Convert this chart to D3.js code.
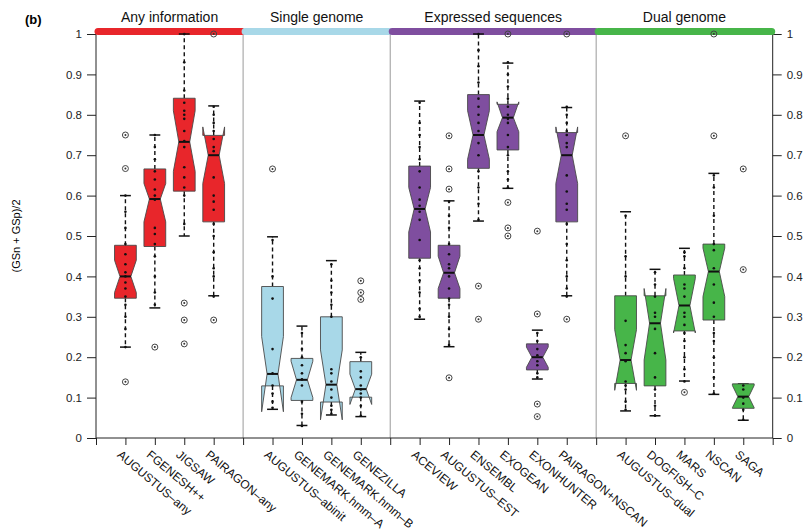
<!DOCTYPE html>
<html>
<head>
<meta charset="utf-8">
<script src="https://cdn.jsdelivr.net/npm/d3@7"></script>
<style>
  body { margin: 0; background: #fff; }
  text { font-family: "Liberation Sans", Arial, sans-serif; }
</style>
</head>
<body>
<script>
// group headers and colours
var groups = ["Any information", "Single genome", "Expressed sequences", "Dual genome"];
var groupColors = ["#e8262b", "#a8d8e8", "#7f4e9f", "#47b549"];

var methods = ["AUGUSTUS\u2013any", "FGENESH++", "JIGSAW", "PAIRAGON\u2013any",
  "AUGUSTUS\u2013abinit", "GENEMARK.hmm\u2013A", "GENEMARK.hmm\u2013B", "GENEZILLA",
  "ACEVIEW", "AUGUSTUS\u2013EST", "ENSEMBL", "EXOGEAN", "EXONHUNTER", "PAIRAGON+NSCAN",
  "AUGUSTUS\u2013dual", "DOGFISH\u2013C", "MARS", "NSCAN", "SAGA"];
var methodGroup = [0,0,0,0, 1,1,1,1, 2,2,2,2,2,2, 3,3,3,3,3];

// box statistics
var whiskerLo = [0.225,0.322,0.50,0.352, 0.071,0.031,0.057,0.053, 0.294,0.226,0.537,0.618,0.146,0.352, 0.067,0.055,0.141,0.108,0.044];
var hingeLo   = [0.346,0.474,0.611,0.535, 0.129,0.093,0.089,0.101, 0.445,0.346,0.6675,0.713,0.1685,0.535, 0.135,0.129,0.265,0.292,0.0735];
var medians   = [0.40,0.5915,0.733,0.70, 0.1586,0.144,0.132,0.121, 0.567,0.409,0.75,0.793,0.20,0.70, 0.193,0.284,0.328,0.412,0.1024];
var hingeHi   = [0.477,0.666,0.841,0.749, 0.375,0.197,0.300,0.189, 0.673,0.477,0.85,0.826,0.233,0.756, 0.352,0.352,0.4035,0.48,0.134];
var whiskerHi = [0.60,0.75,1.0,0.822, 0.498,0.277,0.439,0.212, 0.834,0.587,1.0,0.928,0.267,0.818, 0.56,0.4175,0.4695,0.655,0.134];
var notchLo   = [0.36,0.535,0.66,0.63, 0.065,0.10,0.045,0.083, 0.51,0.37,0.69,0.758,0.175,0.63, 0.118,0.193,0.26,0.35,0.075];
var notchHi   = [0.44,0.63,0.81,0.77, 0.251,0.19,0.218,0.158, 0.62,0.45,0.81,0.832,0.225,0.77, 0.268,0.37,0.395,0.47,0.13];

var outliers = [
  [0.75,0.667,0.139], [0.225], [0.334,0.292,0.233], [1.0,0.292],
  [0.666], [], [], [0.389,0.36,0.343],
  [], [0.748,0.666,0.616,0.149], [0.376,0.294], [1.0,0.583,0.52,0.50], [0.512,0.307,0.084,0.053], [1.0,0.294],
  [0.748], [], [0.113], [1.0,0.748], [0.666,0.4168]
];

var points = [
  [0.225,0.27,0.30,0.33,0.35,0.37,0.385,0.40,0.41,0.43,0.455,0.48,0.52,0.56,0.60],
  [0.33,0.36,0.40,0.45,0.48,0.505,0.52,0.59,0.60,0.615,0.64,0.66,0.69,0.72,0.75],
  [0.53,0.60,0.62,0.645,0.67,0.72,0.735,0.76,0.79,0.80,0.81,0.83,0.86,0.93,1.0],
  [0.35,0.40,0.42,0.46,0.50,0.53,0.565,0.585,0.60,0.645,0.71,0.72,0.74,0.76,0.78,0.80,0.82],
  [0.075,0.09,0.11,0.13,0.16,0.22,0.345,0.40,0.49],
  [0.03,0.06,0.09,0.13,0.145,0.16,0.18,0.20,0.22,0.26],
  [0.06,0.07,0.08,0.10,0.12,0.14,0.16,0.17,0.30,0.33,0.36,0.39,0.43],
  [0.055,0.08,0.10,0.11,0.12,0.13,0.15,0.165,0.20],
  [0.30,0.32,0.36,0.39,0.42,0.44,0.49,0.54,0.56,0.575,0.59,0.62,0.66,0.69,0.72,0.75,0.78,0.83],
  [0.23,0.27,0.30,0.33,0.345,0.37,0.40,0.42,0.43,0.455,0.48,0.52,0.55,0.585],
  [0.54,0.58,0.62,0.66,0.70,0.73,0.76,0.78,0.80,0.82,0.84,0.88,0.92,0.96,1.0],
  [0.62,0.64,0.66,0.70,0.72,0.75,0.78,0.79,0.80,0.82,0.84,0.87,0.90,0.93],
  [0.15,0.16,0.18,0.19,0.205,0.22,0.24,0.26],
  [0.35,0.37,0.40,0.44,0.48,0.53,0.565,0.58,0.61,0.65,0.72,0.73,0.75,0.76,0.78,0.80,0.82],
  [0.07,0.09,0.12,0.13,0.14,0.19,0.21,0.23,0.29,0.40,0.45,0.55],
  [0.055,0.08,0.12,0.15,0.21,0.27,0.30,0.31,0.35,0.38,0.41],
  [0.14,0.17,0.20,0.24,0.26,0.28,0.30,0.31,0.35,0.37,0.38,0.42,0.45,0.46],
  [0.11,0.15,0.20,0.24,0.26,0.30,0.335,0.38,0.42,0.465,0.48,0.55,0.62,0.65],
  [0.045,0.07,0.085,0.10,0.12,0.13]
];

var yTicks = [0,0.1,0.2,0.3,0.4,0.5,0.6,0.7,0.8,0.9,1];

var width = 804, height = 529;
var nSlots = methods.length + groups.length; // one empty slot per group boundary

// slot of each method: groups separated by an empty slot
var slotOf = methods.map(function(d,i){ return i + 1 + methodGroup[i]; });
var groupEdges = [0];
groups.forEach(function(g,gi){
    var last = d3.max(slotOf.filter(function(s,i){ return methodGroup[i]===gi; }));
    groupEdges.push(last + 1);
});

var x = d3.scaleLinear().domain([0, nSlots]).range([96, 772.7]);
var y = d3.scaleLinear().domain([0, 1]).range([438, 34]);
var step = x(1) - x(0);
var wid = step * 0.37;

var svg = d3.select("body").append("svg")
    .attr("width", width)
    .attr("height", height);

// group separators
svg.selectAll(".sep")
    .data(groupEdges.slice(1, groupEdges.length - 1))
    .enter().append("line")
    .attr("x1", function(d){ return x(d); })
    .attr("x2", function(d){ return x(d); })
    .attr("y1", y(1)).attr("y2", y(0))
    .style("stroke", "#9a9a9a").style("stroke-width", 1);

// axes
var yLeft = d3.axisLeft(y).tickValues(yTicks).tickSize(9).tickPadding(5)
    .tickFormat(function(d){ return d3.format("")(d); });
var yRight = d3.axisRight(y).tickValues(yTicks).tickSize(9).tickPadding(5)
    .tickFormat(function(d){ return d3.format("")(d); });
var xAxis = d3.axisBottom(x).tickValues(d3.range(0, nSlots + 1)).tickSize(7).tickFormat("");

[svg.append("g").attr("transform", "translate(" + x(0) + ",0)").call(yLeft),
 svg.append("g").attr("transform", "translate(" + x(nSlots) + ",0)").call(yRight),
 svg.append("g").attr("transform", "translate(0," + y(0) + ")").call(xAxis)]
 .forEach(function(g){
    g.select(".domain").attr("d", null);
    g.selectAll("line").style("stroke", "#222");
    g.selectAll("text").style("font-size", "11.5px").style("fill", "#222")
        .style("font-family", "'Liberation Sans', Arial, sans-serif");
 });

svg.append("line").attr("x1", x(0)).attr("x2", x(0)).attr("y1", y(1)).attr("y2", y(0)).style("stroke", "#222");
svg.append("line").attr("x1", x(nSlots)).attr("x2", x(nSlots)).attr("y1", y(1)).attr("y2", y(0)).style("stroke", "#222");
svg.append("line").attr("x1", x(0)).attr("x2", x(nSlots)).attr("y1", y(0)).attr("y2", y(0)).style("stroke", "#222");

// coloured header bar
groups.forEach(function(g, gi){
    svg.append("line")
        .attr("x1", x(groupEdges[gi]) + 2)
        .attr("x2", x(groupEdges[gi+1]) - 1)
        .attr("y1", 31.5).attr("y2", 31.5)
        .style("stroke", groupColors[gi])
        .style("stroke-width", 7)
        .style("stroke-linecap", "round");
    svg.append("text")
        .attr("x", (x(groupEdges[gi]) + x(groupEdges[gi+1])) / 2)
        .attr("y", 22)
        .attr("text-anchor", "middle")
        .style("font-size", "14px")
        .style("fill", "#111")
        .text(g);
});

svg.append("text").attr("x", 25).attr("y", 24)
    .style("font-size", "13px").style("font-weight", "bold").text("(b)");

svg.append("text")
    .attr("transform", "translate(20," + y(0.5) + ") rotate(-90)")
    .attr("text-anchor", "middle")
    .style("font-size", "11px")
    .text("(GSn + GSp)/2");

// x labels
svg.selectAll(".xlab")
    .data(methods)
    .enter().append("text")
    .attr("class", "xlab")
    .attr("transform", function(d,i){ return "translate(" + (x(slotOf[i]) - 9) + "," + (y(0) + 18) + ") rotate(40)"; })
    .attr("text-anchor", "start")
    .style("font-size", "12px")
    .style("fill", "#111")
    .text(function(d){ return d; });

// boxes
var boxes = svg.selectAll(".box")
    .data(methods)
    .enter().append("g")
    .attr("class", "box");

// whiskers
boxes.each(function(d, i){
    var g = d3.select(this), cx = x(slotOf[i]);
    [[hingeHi[i], whiskerHi[i]], [hingeLo[i], whiskerLo[i]]].forEach(function(w){
        if (w[0] === w[1]) return;
        g.append("line").attr("x1", cx).attr("x2", cx)
            .attr("y1", y(w[0])).attr("y2", y(w[1]))
            .style("stroke", "#111").style("stroke-width", 1.4)
            .style("stroke-dasharray", "4,3");
    });
    [whiskerHi[i], whiskerLo[i]].forEach(function(v){
        g.append("line").attr("x1", cx - wid/2).attr("x2", cx + wid/2)
            .attr("y1", y(v)).attr("y2", y(v))
            .style("stroke", "#111").style("stroke-width", 1.5);
    });
});

// notched box (R bxp polygon)
boxes.append("path")
    .attr("d", function(d, i){
        var cx = x(slotOf[i]);
        var pts = [
            [cx - wid, y(hingeLo[i])], [cx - wid, y(notchLo[i])], [cx - wid/2, y(medians[i])],
            [cx - wid, y(notchHi[i])], [cx - wid, y(hingeHi[i])], [cx + wid, y(hingeHi[i])],
            [cx + wid, y(notchHi[i])], [cx + wid/2, y(medians[i])], [cx + wid, y(notchLo[i])],
            [cx + wid, y(hingeLo[i])]
        ];
        return d3.line()(pts) + "Z";
    })
    .style("fill", function(d, i){ return groupColors[methodGroup[i]]; })
    .style("stroke", "#4a4a4a")
    .style("stroke-width", 0.9);

boxes.append("line")
    .attr("x1", function(d, i){ return x(slotOf[i]) - wid/2; })
    .attr("x2", function(d, i){ return x(slotOf[i]) + wid/2; })
    .attr("y1", function(d, i){ return y(medians[i]); })
    .attr("y2", function(d, i){ return y(medians[i]); })
    .style("stroke", "#111").style("stroke-width", 2);

// data points
boxes.each(function(d, i){
    var cx = x(slotOf[i]);
    d3.select(this).selectAll(".pt")
        .data(points[i])
        .enter().append("circle")
        .attr("cx", cx).attr("cy", function(v){ return y(v); })
        .attr("r", 1.3).style("fill", "#111");
    var o = d3.select(this).selectAll(".out")
        .data(outliers[i])
        .enter().append("g");
    o.append("circle")
        .attr("cx", cx).attr("cy", function(v){ return y(v); })
        .attr("r", 3).style("fill", "none")
        .style("stroke", "#444").style("stroke-width", 1);
    o.append("circle")
        .attr("cx", cx).attr("cy", function(v){ return y(v); })
        .attr("r", 1).style("fill", "#333");
});
</script>
</body>
</html>
